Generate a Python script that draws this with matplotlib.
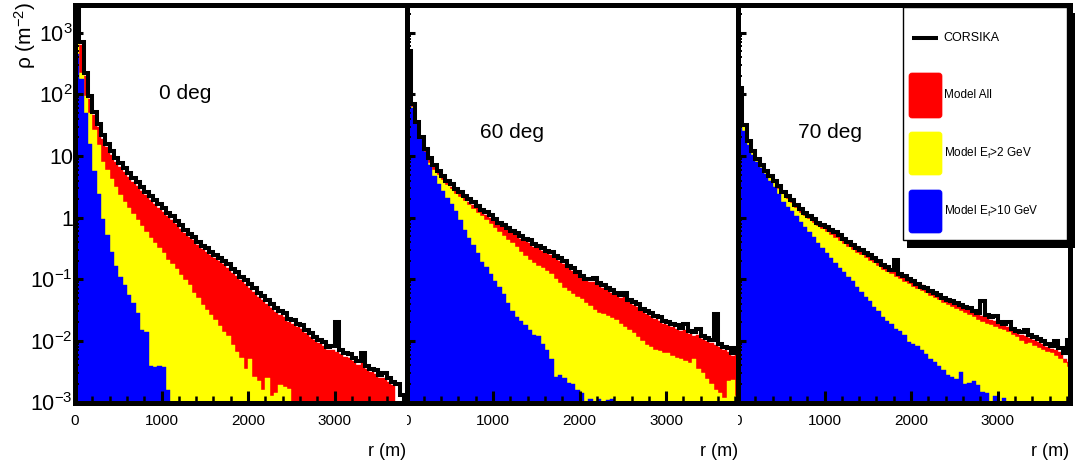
import numpy as np
import matplotlib
matplotlib.use("Agg")
import matplotlib.pyplot as plt
from matplotlib.ticker import FixedLocator, LogLocator, MultipleLocator, NullFormatter
from matplotlib.patches import Rectangle, FancyBboxPatch
from matplotlib.transforms import Bbox, TransformedBbox

plt.rcParams['font.family'] = ['Liberation Sans', 'DejaVu Sans']
plt.rcParams['mathtext.fontset'] = 'custom'
plt.rcParams['mathtext.rm'] = 'Liberation Sans'
plt.rcParams['mathtext.it'] = 'Liberation Sans:italic'
plt.rcParams['mathtext.bf'] = 'Liberation Sans:bold'

nan = np.nan

# ---------------- data: log10(rho / m^-2) per 50 m bin in r ----------------
r_edges = np.arange(0, 3851, 50)          # 77 bins, 0 .. 3850 m
panel_titles = ["0 deg", "60 deg", "70 deg"]
legend_labels = ["CORSIKA", "Model All", r"Model E$_{\rm f}$>2 GeV", r"Model E$_{\rm f}$>10 GeV"]

# ---- 0 deg ----
corsika_0 = [3.60, 2.85, 2.35, 1.98, 1.72, 1.52, 1.34, 1.20, 1.08, 0.97,
             0.88, 0.80, 0.72, 0.64, 0.57, 0.49, 0.42, 0.35, 0.28, 0.22,
             0.15, 0.08, 0.02, -0.05, -0.12, -0.20, -0.27, -0.31, -0.40, -0.46,
             -0.50, -0.56, -0.60, -0.65, -0.70, -0.76, -0.84, -0.89, -0.96, -1.02,
             -1.08, -1.14, -1.22, -1.27, -1.34, -1.40, -1.47, -1.52, -1.55, -1.64,
             -1.66, -1.72, -1.74, -1.82, -1.87, -1.93, -1.98, -2.02, -2.10, -2.08,
             -1.69, -2.15, -2.20, -2.22, -2.27, -2.33, -2.20, -2.40, -2.45, -2.47,
             -2.55, -2.52, -2.60, -2.66, -2.70, -2.88, -2.95]
model_all_0 = [3.08, 2.80, 2.30, 1.93, 1.67, 1.47, 1.28, 1.14, 1.02, 0.91,
               0.82, 0.74, 0.66, 0.58, 0.51, 0.43, 0.36, 0.29, 0.22, 0.16,
               0.09, 0.02, -0.04, -0.11, -0.18, -0.25, -0.32, -0.37, -0.45, -0.51,
               -0.56, -0.61, -0.66, -0.71, -0.76, -0.82, -0.90, -0.95, -1.02, -1.08,
               -1.14, -1.20, -1.28, -1.33, -1.40, -1.46, -1.53, -1.58, -1.62, -1.70,
               -1.72, -1.78, -1.81, -1.88, -1.93, -1.99, -2.04, -2.08, -2.15, -2.15,
               -2.18, -2.21, -2.26, -2.28, -2.33, -2.39, -2.30, -2.46, -2.51, -2.53,
               -2.61, -2.60, -2.66, -2.72, nan, nan, nan]
model_ef2_0 = [2.90, 2.35, 1.98, 1.70, 1.42, 1.18, 0.90, 0.78, 0.62, 0.50,
               0.36, 0.26, 0.16, 0.06, -0.04, -0.14, -0.24, -0.33, -0.42, -0.50,
               -0.58, -0.69, -0.76, -0.84, -0.93, -1.02, -1.10, -1.22, -1.30, -1.42,
               -1.50, -1.58, -1.66, -1.76, -1.85, -1.92, -2.06, -2.18, -2.28, -2.45,
               -2.30, -2.58, -2.65, -2.80, -2.60, -2.90, -2.85, -2.72, -2.75, -2.78] \
    + [nan] * 27
model_ef10_0 = [2.65, 2.25, 1.70, 1.20, 0.75, 0.38, -0.02, -0.28, -0.55, -0.78,
                -0.97, -1.10, -1.25, -1.38, -1.55, -1.82, -1.85, -2.40, -2.42, -2.40,
                -2.42, -2.80] + [nan] * 55

# ---- 60 deg ----
corsika_60 = [2.70, 1.85, 1.55, 1.30, 1.12, 0.96, 0.85, 0.76, 0.68, 0.60,
              0.54, 0.47, 0.41, 0.35, 0.30, 0.25, 0.19, 0.13, 0.09, 0.04,
              -0.02, -0.08, -0.12, -0.17, -0.21, -0.25, -0.30, -0.34, -0.37, -0.43,
              -0.46, -0.50, -0.54, -0.55, -0.62, -0.66, -0.71, -0.78, -0.82, -0.88,
              -0.95, -0.99, -1.00, -0.98, -1.06, -1.10, -1.14, -1.18, -1.22, -1.26,
              -1.22, -1.33, -1.37, -1.40, -1.48, -1.52, -1.55, -1.60, -1.62, -1.68,
              -1.70, -1.73, -1.74, -1.79, -1.72, -1.84, -1.86, -1.80, -1.92, -1.95,
              -1.98, -1.57, -2.05, -2.10, -2.12, -2.20, -2.12]
model_all_60 = [2.30, 1.83, 1.52, 1.27, 1.09, 0.93, 0.82, 0.73, 0.65, 0.57,
                0.50, 0.44, 0.38, 0.32, 0.26, 0.21, 0.15, 0.10, 0.05, 0.00,
                -0.05, -0.11, -0.16, -0.20, -0.25, -0.29, -0.34, -0.38, -0.42, -0.47,
                -0.50, -0.54, -0.58, -0.60, -0.66, -0.70, -0.75, -0.82, -0.86, -0.92,
                -0.98, -1.02, -1.05, -1.04, -1.10, -1.14, -1.18, -1.22, -1.26, -1.30,
                -1.29, -1.37, -1.41, -1.45, -1.52, -1.56, -1.60, -1.64, -1.67, -1.72,
                -1.75, -1.78, -1.80, -1.84, -1.82, -1.89, -1.92, -1.90, -1.97, -2.00,
                -2.04, -2.06, -2.10, -2.15, -2.18, -2.25, -2.22]
model_ef2_60 = [2.20, 1.80, 1.50, 1.24, 1.05, 0.89, 0.78, 0.69, 0.61, 0.53,
                0.46, 0.39, 0.33, 0.27, 0.20, 0.14, 0.08, 0.02, -0.04, -0.10,
                -0.17, -0.24, -0.30, -0.36, -0.42, -0.48, -0.56, -0.62, -0.68, -0.74,
                -0.78, -0.82, -0.87, -0.92, -0.99, -1.06, -1.14, -1.19, -1.24, -1.28,
                -1.32, -1.38, -1.44, -1.50, -1.54, -1.57, -1.60, -1.63, -1.66, -1.72,
                -1.78, -1.82, -1.88, -1.94, -2.00, -2.06, -2.10, -2.14, -2.16, -2.19,
                -2.20, -2.24, -2.27, -2.30, -2.33, -2.36, -2.30, -2.45, -2.52, -2.62,
                -2.70, -2.80, -2.85, -2.92, -2.65, -2.63, -2.90]
model_ef10_60 = [2.05, 1.78, 1.55, 1.28, 1.06, 0.86, 0.68, 0.54, 0.43, 0.32,
                 0.22, 0.10, -0.04, -0.20, -0.33, -0.45, -0.58, -0.72, -0.80, -0.92,
                 -1.03, -1.12, -1.24, -1.38, -1.52, -1.62, -1.68, -1.75, -1.82, -1.90,
                 -1.92, -2.05, -2.15, -2.30, -2.58, -2.55, -2.60, -2.68, -2.70, -2.80,
                 -2.85, nan, -2.95, nan, -2.95, nan, -2.96, -2.95, nan, nan] + [nan] * 27

# ---- 70 deg ----
corsika_70 = [2.10, 1.50, 1.25, 1.08, 0.95, 0.85, 0.76, 0.68, 0.60, 0.52,
              0.42, 0.35, 0.28, 0.21, 0.14, 0.08, 0.03, -0.03, -0.08, -0.12,
              -0.16, -0.20, -0.24, -0.29, -0.34, -0.40, -0.45, -0.49, -0.52, -0.57,
              -0.61, -0.66, -0.71, -0.77, -0.80, -0.85, -0.68, -0.91, -0.95, -1.00,
              -1.03, -1.08, -1.12, -1.15, -1.19, -1.22, -1.25, -1.30, -1.33, -1.36,
              -1.38, -1.41, -1.45, -1.47, -1.52, -1.55, -1.36, -1.58, -1.62, -1.60,
              -1.69, -1.72, -1.70, -1.80, -1.84, -1.86, -1.82, -1.90, -1.94, -1.97,
              -2.00, -2.05, -2.08, -2.00, -2.12, -2.20, -1.98]
model_all_70 = [2.00, 1.48, 1.24, 1.07, 0.94, 0.84, 0.75, 0.67, 0.59, 0.51,
                0.42, 0.35, 0.28, 0.21, 0.14, 0.09, 0.03, -0.02, -0.07, -0.12,
                -0.15, -0.20, -0.25, -0.29, -0.34, -0.39, -0.44, -0.49, -0.53, -0.57,
                -0.62, -0.66, -0.71, -0.76, -0.81, -0.85, -0.88, -0.92, -0.96, -0.99,
                -1.03, -1.06, -1.10, -1.14, -1.18, -1.21, -1.24, -1.28, -1.32, -1.35,
                -1.39, -1.42, -1.46, -1.50, -1.54, -1.57, -1.60, -1.62, -1.66, -1.68,
                -1.72, -1.75, -1.78, -1.82, -1.87, -1.90, -1.92, -1.95, -1.98, -2.02,
                -2.05, -2.10, -2.13, -2.15, -2.18, -2.30, -2.35]
model_ef2_70 = [1.95, 1.47, 1.23, 1.06, 0.93, 0.83, 0.74, 0.65, 0.56, 0.47,
                0.38, 0.31, 0.23, 0.15, 0.08, 0.02, -0.03, -0.08, -0.13, -0.18,
                -0.23, -0.28, -0.33, -0.38, -0.43, -0.48, -0.53, -0.57, -0.61, -0.65,
                -0.70, -0.74, -0.79, -0.85, -0.88, -0.92, -0.96, -1.00, -1.04, -1.08,
                -1.12, -1.16, -1.19, -1.23, -1.27, -1.30, -1.34, -1.38, -1.42, -1.45,
                -1.48, -1.52, -1.55, -1.58, -1.62, -1.66, -1.69, -1.72, -1.75, -1.77,
                -1.80, -1.82, -1.86, -1.90, -1.93, -2.00, -2.05, -2.04, -2.08, -2.12,
                -2.15, -2.18, -2.20, -2.25, -2.30, -2.36, -2.42]
model_ef10_70 = [1.75, 1.40, 1.18, 1.02, 0.90, 0.80, 0.70, 0.60, 0.50, 0.38,
                 0.26, 0.18, 0.10, 0.02, -0.07, -0.15, -0.24, -0.32, -0.41, -0.50,
                 -0.58, -0.66, -0.74, -0.82, -0.89, -0.96, -1.03, -1.12, -1.20, -1.28,
                 -1.36, -1.45, -1.52, -1.62, -1.68, -1.72, -1.80, -1.84, -1.90, -2.02,
                 -2.05, -2.08, -2.14, -2.22, -2.30, -2.35, -2.40, -2.48, -2.55, -2.58,
                 -2.62, -2.50, -2.70, -2.68, -2.65, -2.72, -2.83, -2.84, nan, -2.90,
                 nan, -2.92] + [nan] * 15

corsika = [corsika_0, corsika_60, corsika_70]
model_all = [model_all_0, model_all_60, model_all_70]
model_ef2 = [model_ef2_0, model_ef2_60, model_ef2_70]
model_ef10 = [model_ef10_0, model_ef10_60, model_ef10_70]

x_ticks = [0, 1000, 2000, 3000]
y_ticks = [1e-3, 1e-2, 1e-1, 1, 10, 1e2, 1e3]
y_ticklabels = [r'$10^{-3}$', r'$10^{-2}$', r'$10^{-1}$', '1', '10', r'$10^{2}$', r'$10^{3}$']

RED, YEL, BLU = '#ff0000', '#ffff00', '#0000ff'


def dens(logvals):
    a = np.asarray(logvals, dtype=float)
    return np.where(np.isnan(a), 1e-7, 10.0 ** a)


# ---------------- figure ----------------
W, H = 1087, 465
fig = plt.figure(figsize=(W / 100, H / 100), dpi=100)
lefts = [75, 406.5, 738]
pw = 331.5
ytop, ybot = 5, 402.5
title_pos = [(0.332, 0.778), (0.317, 0.68), (0.278, 0.68)]

for i in range(3):
    ax = fig.add_axes([lefts[i] / W, 1 - ybot / H, pw / W, (ybot - ytop) / H])
    ax.set_yscale('log')
    ax.stairs(dens(model_all[i]), r_edges, fill=True, facecolor=RED, edgecolor=RED,
              lw=0.3, baseline=1e-7, zorder=1)
    ax.stairs(dens(model_ef2[i]), r_edges, fill=True, facecolor=YEL, edgecolor=YEL,
              lw=0.3, baseline=1e-7, zorder=1.1)
    ax.stairs(dens(model_ef10[i]), r_edges, fill=True, facecolor=BLU, edgecolor=BLU,
              lw=0.3, baseline=1e-7, zorder=1.2)
    ax.stairs(dens(corsika[i]), r_edges, color='black', lw=2.9, baseline=None, zorder=2)

    ax.set_xlim(0, 3830)
    ax.set_ylim(1e-3, 10 ** 3.45)

    for s in ax.spines.values():
        s.set_linewidth(3.6)

    ax.xaxis.set_major_locator(FixedLocator(x_ticks))
    ax.xaxis.set_minor_locator(MultipleLocator(200))
    if i == 0:
        ax.set_xticklabels([str(t) for t in x_ticks])
    else:
        ax.set_xticklabels([''] + [str(t) for t in x_ticks[1:]])
        t0 = ax.annotate('0', xy=(0, 0), xycoords=('data', 'axes fraction'),
                         xytext=(0, -8), textcoords='offset points',
                         ha='center', va='top', fontsize=11, annotation_clip=False)
        t0.set_clip_on(True)
        t0.set_clip_box(TransformedBbox(Bbox([[0, -0.5], [1, 1]]), ax.transAxes))

    ax.yaxis.set_major_locator(FixedLocator(y_ticks))
    ax.yaxis.set_minor_locator(LogLocator(base=10, subs=np.arange(2, 10)))
    ax.yaxis.set_minor_formatter(NullFormatter())
    if i == 0:
        ax.set_yticklabels(y_ticklabels)
    else:
        ax.tick_params(axis='y', labelleft=False)

    ax.tick_params(axis='x', which='major', direction='in', length=9, width=2.2,
                   top=False, pad=8, labelsize=11)
    ax.tick_params(axis='x', which='minor', direction='in', length=5, width=1.8, top=False)
    ax.tick_params(axis='y', which='major', direction='in', length=6, width=2.2,
                   right=False, pad=1.5, labelsize=15.5)
    ax.tick_params(axis='y', which='minor', direction='in', length=3, width=1.4, right=False)

    ax.text(title_pos[i][0], title_pos[i][1], panel_titles[i], transform=ax.transAxes,
            ha='center', va='center', fontsize=15)

    fig.text((lefts[i] + pw) / W, 1 - 451 / H, 'r (m)', ha='right', va='center', fontsize=13)

fig.text(25 / W, 1 - 2 / H, 'ρ (m$^{-2}$)', rotation=90, ha='center', va='top', fontsize=15)

# ---------------- legend (ROOT-style box with shadow) ----------------
lg = fig.add_axes([0, 0, 1, 1])
lg.set_xlim(0, W)
lg.set_ylim(H, 0)
lg.axis('off')
lg.add_patch(Rectangle((907, 13), 1075 - 907, 248 - 13, facecolor='black', edgecolor='none'))
lg.add_patch(Rectangle((903, 7), 1067 - 903, 240 - 7, facecolor='white', edgecolor='black', lw=1))
lg.plot([912, 938], [38, 38], color='black', lw=2.9, solid_capstyle='butt')
lg.text(943, 38, legend_labels[0], va='center', ha='left', fontsize=9)
for (y0, y1, col, lab) in [(73, 118, RED, legend_labels[1]),
                           (132, 175, YEL, legend_labels[2]),
                           (190, 233, BLU, legend_labels[3])]:
    lg.add_patch(FancyBboxPatch((910, y0 + 1), 31, (y1 - y0) - 2,
                                boxstyle='round,pad=1,rounding_size=3',
                                facecolor=col, edgecolor=col, lw=0.5))
    lg.text(944, (y0 + y1) / 2, lab, va='center', ha='left', fontsize=8.5)

fig.savefig('out.png', dpi=100)
